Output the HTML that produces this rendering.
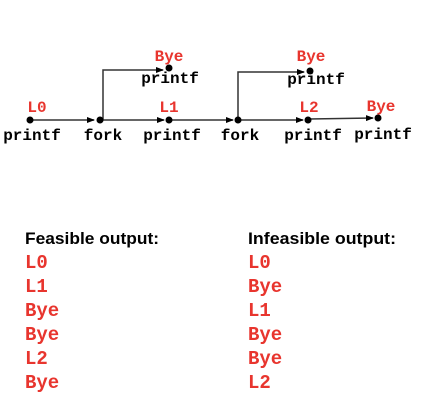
<!DOCTYPE html>
<html><head><style>body{margin:0;background:#fff}</style></head><body>
<svg width="442" height="408" xmlns="http://www.w3.org/2000/svg">
<defs><marker id="a" markerWidth="8" markerHeight="6" refX="7" refY="3" orient="auto" markerUnits="userSpaceOnUse"><path d="M0,0 L8,3 L0,6z" fill="#000"/></marker></defs>
<g stroke="#333" stroke-width="1.5" fill="none">
<line x1="30" y1="120" x2="94" y2="120" marker-end="url(#a)"/>
<line x1="100" y1="120" x2="164" y2="120" marker-end="url(#a)"/>
<line x1="170" y1="120" x2="233" y2="120" marker-end="url(#a)"/>
<line x1="239" y1="120" x2="303" y2="120" marker-end="url(#a)"/>
<line x1="309" y1="119" x2="373" y2="118" marker-end="url(#a)"/>
<polyline points="103,120 103,70 163,70" marker-end="url(#a)"/>
<polyline points="238,120 238,72 304,72" marker-end="url(#a)"/>
</g>
<g fill="#000">
<circle cx="30" cy="120" r="3.5"/><circle cx="100" cy="120" r="3.5"/><circle cx="169" cy="120" r="3.5"/><circle cx="238" cy="120" r="3.5"/><circle cx="308" cy="120" r="3.5"/><circle cx="378" cy="118" r="3.5"/>
<circle cx="169" cy="68" r="3.5"/><circle cx="310" cy="71" r="3.5"/>
</g>
<g font-family="Liberation Mono, monospace" font-weight="bold" font-size="16" text-anchor="middle">
<g fill="#e8352e">
<text x="37" y="112">L0</text><text x="169" y="112">L1</text><text x="309" y="112">L2</text><text x="381" y="111">Bye</text>
<text x="169" y="61">Bye</text><text x="311" y="61">Bye</text>
</g>
<g fill="#000">
<text x="32" y="140">printf</text><text x="103" y="140">fork</text><text x="172" y="140">printf</text><text x="240" y="140">fork</text><text x="313" y="140">printf</text><text x="383" y="139">printf</text>
<text x="170" y="83">printf</text><text x="316" y="84">printf</text>
</g>
</g>
<g font-family="Liberation Sans, sans-serif" font-weight="bold" font-size="17" fill="#000">
<text x="25" y="244" textLength="134" lengthAdjust="spacingAndGlyphs">Feasible output:</text><text x="248" y="244" textLength="148" lengthAdjust="spacingAndGlyphs">Infeasible output:</text>
</g>
<g font-family="Liberation Mono, monospace" font-weight="bold" font-size="19" fill="#e8352e">
<text x="25" y="268">L0</text><text x="25" y="292">L1</text><text x="25" y="316">Bye</text><text x="25" y="340">Bye</text><text x="25" y="364">L2</text><text x="25" y="388">Bye</text>
<text x="248" y="268">L0</text><text x="248" y="292">Bye</text><text x="248" y="316">L1</text><text x="248" y="340">Bye</text><text x="248" y="364">Bye</text><text x="248" y="388">L2</text>
</g>
</svg>
</body></html>
